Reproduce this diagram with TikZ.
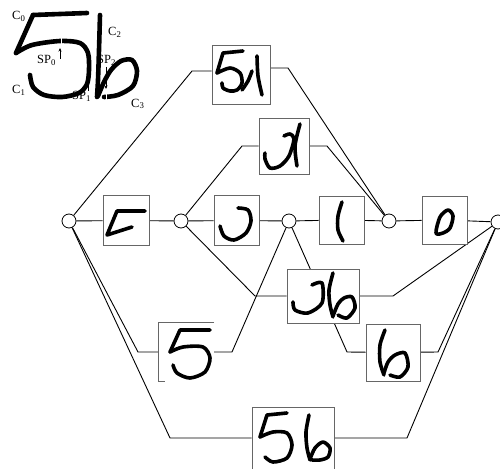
\documentclass[tikz,border=0pt]{standalone}
\usepackage{fontspec}
\setmainfont{Liberation Serif}
\usetikzlibrary{backgrounds,arrows.meta}
\tikzset{
  box/.style={draw=black!60, fill=white, line width=0.8pt, inner sep=0pt},
  nobox/.style={fill=white, inner sep=0pt},
  junc/.style={circle, draw=black, fill=white, minimum size=14pt, inner sep=0pt, line width=0.8pt},
  wire/.style={line width=0.9pt, line join=round},
  ink/.style={line width=3.6pt, line cap=round, line join=round},
  bigink/.style={line width=4.6pt, line cap=round, line join=round},
  lbl/.style={font=\fontsize{12.5}{13}\selectfont, inner sep=0pt, anchor=base west},
  arr/.style={line width=0.7pt, -{Stealth[length=3.5pt,width=3pt]}},
}
\begin{document}
\begin{tikzpicture}[x=1pt,y=-1pt]
\useasboundingbox (0,0) rectangle (500,468);
\clip (0,0) rectangle (500,468);

% ---------- inset (top left) ----------
\draw[bigink] (33,15) -- (87,13);
\draw[bigink] (33,15) -- (16,53);
\draw[bigink] plot[smooth] coordinates {(16,53) (32,45) (60,41) (80,43) (88,53) (89,70) (87,84) (79,93) (62,97) (44,95) (33,87) (30,75)};
\draw[bigink] plot[smooth] coordinates {(100,15) (99,50) (98,80) (97,97)};
\draw[bigink] plot[smooth] coordinates {(98,96) (104,82) (111,70) (121,61) (132,60) (137,71) (133,86) (118,95) (104,97)};
% split points (gaps)
\draw[white, line width=1pt] (61,36) -- (61,47);
\draw[white, line width=1pt] (93,78) -- (93,99);
\draw[white, line width=1pt] (106,89) -- (106,103);
\draw[arr] (60,59) -- (60,48);
\draw[arr] (88,91) -- (88,80);
\draw[arr] (106,67) -- (106,89);
\node[lbl] (c0) at (12,20) {C\textsubscript{0}};
\node[lbl] (c1) at (12,94) {C\textsubscript{1}};
\node[lbl] (c2) at (108,36) {C\textsubscript{2}};
\node[lbl] (c3) at (131,107) {C\textsubscript{3}};
\node[lbl] (sp0) at (37,64) {SP\textsubscript{0}};
\node[lbl] (sp1) at (72,100) {SP\textsubscript{1}};
\node[lbl] (sp2) at (97,64) {SP\textsubscript{2}};

% ---------- nodes ----------
\node[junc] (n0) at (69,221) {};
\node[junc] (n1) at (181,221) {};
\node[junc] (n2) at (289,221) {};
\node[junc] (n3) at (389,221) {};
\node[junc] (n4) at (498,222) {};

\node[box, minimum width=46pt, minimum height=50pt] (A) at (126,220.5) {};
\node[box, minimum width=45pt, minimum height=50pt] (B) at (236.5,220.5) {};
\node[box, minimum width=45pt, minimum height=48pt] (C) at (341.5,220) {};
\node[box, minimum width=45pt, minimum height=48pt] (D) at (444.5,220) {};
\node[box, minimum width=58pt, minimum height=59pt] (T) at (241,74.5) {};
\node[box, minimum width=50pt, minimum height=56pt] (U) at (284,146) {};
\node[box, minimum width=72pt, minimum height=54pt] (V) at (323,296) {};
\node[nobox, minimum width=55pt, minimum height=58pt] (F) at (186.5,352) {};
\node[box, minimum width=54pt, minimum height=57pt] (S) at (393,352.5) {};
\node[box, minimum width=82pt, minimum height=62pt] (W) at (293,438) {};

\coordinate (t1) at (192,71);
\coordinate (t2) at (288,68);
\coordinate (u1) at (242,146);
\coordinate (u2) at (327,146);
\coordinate (v1) at (255,296);
\coordinate (v2) at (393,296);
\coordinate (f1) at (138,352);
\coordinate (f2) at (232,352);
\coordinate (s1) at (347,352);
\coordinate (s2) at (438,352);
\coordinate (w1) at (170,438);
\coordinate (w2) at (407,438);

\begin{scope}[on background layer]
\fill[white] (0,0) rectangle (500,468);
\draw[wire] (n0) -- (A) -- (n1) -- (B) -- (n2) -- (C) -- (n3) -- (D) -- (n4);
\draw[wire] (n0) -- (t1) -- (t1 -| T.west);
\draw[wire] (T.east |- t2) -- (t2) -- (n3);
\draw[wire] (n1) -- (u1) -- (U);
\draw[wire] (U) -- (u2) -- (n3);
\draw[wire] (n1) -- (v1) -- (V);
\draw[wire] (V) -- (v2) -- (n4);
\draw[wire] (n0) -- (f1) -- (F);
\draw[wire] (F) -- (f2) -- (n2);
\draw[wire] (n2) -- (s1) -- (S);
\draw[wire] (S) -- (s2) -- (n4);
\draw[wire] (n0) -- (w1) -- (W);
\draw[wire] (W) -- (w2) -- (n4);
\end{scope}

% partial border of box F
\draw[draw=black!60, line width=0.8pt] (F.north east) -- (F.north west) -- (F.south west) -- ++(6,0);

% ---------- handwriting in boxes ----------
% A
\draw[ink] (145,211) -- (117,211) -- (107,235) -- (132,227);
% B
\draw[ink] plot[smooth] coordinates {(238,208) (248,210) (251,221) (246,233) (234,240) (224,236) (220,226)};
% C
\draw[ink] plot[smooth] coordinates {(342,202) (338,216) (338,230) (343,241)};
% D
\draw[ink] plot[smooth cycle] coordinates {(436,233) (440,217) (448,210) (453,216) (450,228) (443,233)};
% T : 5 + l
\draw[ink] (243,51) -- (223,53) -- (217,73);
\draw[ink] plot[smooth] coordinates {(217,73) (230,68) (240,73) (242,83) (237,90) (230,91) (223,88) (222,83)};
\draw[ink] plot[smooth] coordinates {(252,71) (248,81) (242,90)};
\draw[ink] plot[smooth] coordinates {(257,56) (258,76) (262,95)};
% U
\draw[ink] plot[smooth] coordinates {(284,136) (290,134) (294,139) (289,156) (280,166) (270,168) (265,159) (265,153)};
\draw[ink] plot[smooth] coordinates {(300,124) (295,146) (297,166)};
% V
\draw[ink] plot[smooth] coordinates {(312,285) (322,283) (322,303) (308,313) (295,310) (293,302)};
\draw[ink] plot[smooth] coordinates {(333,273) (329,290) (330,305) (333,317)};
\draw[ink] plot[smooth] coordinates {(333,316) (338,304) (344,298) (352,297) (355,308) (347,318) (338,315)};
% F : 5
\draw[ink] (210,330) -- (180,330) -- (170,352);
\draw[ink] plot[smooth] coordinates {(170,352) (183,347) (203,347) (210,358) (205,372) (190,378) (177,373) (173,365)};
% S : 6
\draw[ink] plot[smooth] coordinates {(385,330) (380,345) (380,362) (384,375)};
\draw[ink] plot[smooth] coordinates {(384,373) (388,362) (395,355) (405,353) (408,367) (400,377) (390,375)};
% W : 56
\draw[ink] (287,413) -- (267,415) -- (260,437);
\draw[ink] plot[smooth] coordinates {(260,437) (273,432) (287,433) (292,445) (287,458) (273,462) (265,457)};
\draw[ink] plot[smooth] coordinates {(309,415) (306,432) (307,448) (310,460)};
\draw[ink] plot[smooth] coordinates {(310,459) (315,448) (323,442) (330,448) (328,457) (320,460) (312,460)};
\end{tikzpicture}
\end{document}
